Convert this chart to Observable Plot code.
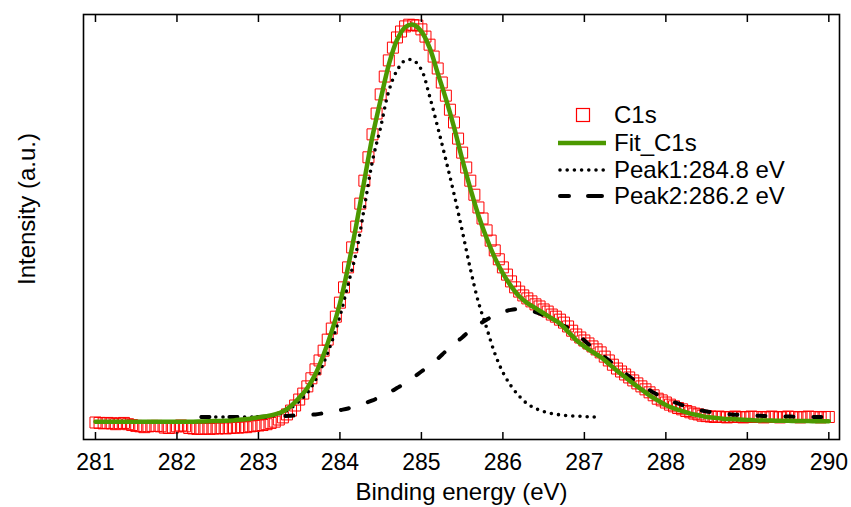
<!DOCTYPE html>
<html>
<head>
<meta charset="utf-8">
<script src="https://cdn.jsdelivr.net/npm/d3@7"></script>
<script src="https://cdn.jsdelivr.net/npm/@observablehq/plot@0.6"></script>
<style>
  body { margin: 0; background: #fff; font-family: "Liberation Sans", Arial, sans-serif; }
  #wrap { position: relative; width: 851px; height: 507px; }
  .row { position: absolute; left: 556px; height: 28px; display: flex; align-items: center; font-size: 24px; color: #000; white-space: nowrap; }
  .row svg { width: 52px; height: 28px; margin-right: 6px; flex: none; }
</style>
</head>
<body>
<div id="wrap"></div>
<script>
// ---- Data ----
// Measured C1s spectrum, sampled every 0.05 eV from 281.00 eV
const c1sStart = 281.0;
const c1sStep = 0.05;
const c1s = [
  4.0,3.9,3.8,3.9,3.8,3.6,3.8,3.9,3.6,3.4, 3.2,3.1,2.9,3.1,3.2,3.2,3.1,2.8,2.7,2.8,
  3.1,3.3,3.1,2.7,2.6,2.5,2.5,2.6,2.5,2.6, 2.6,2.7,2.6,2.7,2.8,2.8,2.9,2.9,3.1,3.2,
  3.3,3.4,3.6,3.9,4.2,4.7,5.2,5.9,6.8,8.0, 9.4,10.8,12.5,14.4,16.5,18.6,20.9,23.5,26.1,28.9,
  32.2,35.8,40.5,45.2,50.1,55.5,60.9,66.4,71.8,76.7, 81.2,85.4,89.2,92.2,94.6,96.0,97.2,97.6,97.5,97.4,
  96.5,94.8,92.9,90.1,87.3,84.0,80.9,77.6,74.6,70.8, 67.5,64.0,60.9,57.6,54.6,52.0,49.2,46.8,44.5,42.4,
  40.5,38.8,37.2,35.8,34.8,33.9,33.2,32.5,31.8,31.3, 30.6,30.1,29.4,28.9,28.2,27.5,26.6,25.6,24.7,24.0,
  23.3,22.6,21.9,21.2,20.5,19.5,18.6,17.6,16.7,16.0, 15.3,14.6,13.9,13.2,12.5,11.8,11.1,10.4,9.6,9.2,
  8.7,8.2,7.8,7.4,7.1,6.7,6.4,6.1,5.9,5.6, 5.5,5.4,5.3,5.4,5.3,5.2,5.3,5.4,5.3,5.2,
  5.3,5.4,5.3,5.3,5.2,5.3,5.4,5.3,5.2,5.3, 5.4,5.3,5.3,5.2,5.3,5.4,5.3,5.3,5.2,5.3,
  5.3
];

// Fit envelope, every 0.1 eV from 281.0 eV
const fitStart = 281.0;
const fitStep = 0.1;
const fitC1s = [
  4.2,4.2,4.2,4.2,4.2,4.2,4.2,4.2,4.2,4.2,
  4.2,4.2,4.2,4.25,4.3,4.35,4.4,4.5,4.7,4.9,
  5.2,5.5,5.9,6.6,7.9,9.8,12.1,15.4,20.0,25.5,
  32.0,40.6,50.4,61.0,71.4,80.0,88.2,94.0,97.0,97.6,
  96.0,92.2,86.2,80.2,73.5,66.0,59.1,52.7,47.4,42.8,
  39.1,36.1,33.7,32.1,30.9,29.7,28.5,27.3,25.4,23.4,
  21.9,20.6,19.4,17.8,16.2,14.7,13.2,11.8,10.4,9.2,
  8.1,7.3,6.7,6.1,5.7,5.3,5.1,4.9,4.8,4.7,
  4.6,4.5,4.5,4.45,4.4,4.4,4.35,4.35,4.3,4.3,
  4.3
];

// Component 1 (284.8 eV), every 0.1 eV from 282.3 eV
const peak1Start = 282.3;
const peak1 = [
  5.3,5.3,5.3,5.3,5.3,5.3,5.3,
  5.3,5.4,5.7,6.3,7.4,9.0,11.0,14.0,18.0,23.0,
  29.0,36.5,44.0,54.6,65.6,73.5,82.0,86.8,89.2,89.2,
  87.0,80.8,73.5,65.8,57.8,49.2,40.2,32.3,26.3,20.3,
  15.8,12.6,10.2,8.4,7.3,6.6,6.1,5.8,5.6,5.5,
  5.4,5.3,5.3
];

// Component 2 (286.2 eV), every 0.1 eV from 282.3 eV
const peak2Start = 282.3;
const peak2 = [
  5.3,5.3,5.3,5.3,5.3,5.3,5.3,
  5.3,5.35,5.4,5.5,5.6,5.7,5.8,5.9,6.2,6.5,
  6.9,7.3,7.8,8.5,9.2,10.1,11.0,12.1,13.2,14.6,
  16.0,17.4,19.0,20.8,22.5,24.0,25.7,27.0,28.2,29.2,
  30.0,30.5,30.7,30.5,30.0,29.2,28.2,27.1,26.3,25.0,
  23.3,21.6,20.1,18.6,17.1,15.6,14.1,12.8,11.6,10.5,
  9.6,8.8,8.1,7.5,7.0,6.6,6.3,6.1,5.9,5.8,
  5.7,5.6,5.55,5.5,5.45,5.4,5.35,5.3,5.3,5.3,
  5.3
];

const xTicks = [281, 282, 283, 284, 285, 286, 287, 288, 289, 290];
const seriesNames = ["C1s", "Fit_C1s", "Peak1:284.8 eV", "Peak2:286.2 eV"];
const xTitle = "Binding energy (eV)";
const yTitle = "Intensity (a.u.)";

// ---- Build tables ----
const rows = (start, step, vals) => vals.map((v, i) => ({e: +(start + i * step).toFixed(2), v}));
const c1sRows = rows(c1sStart, c1sStep, c1s);
const fitRows = rows(fitStart, fitStep, fitC1s);
const p1Rows = rows(peak1Start, fitStep, peak1);
const p2Rows = rows(peak2Start, fitStep, peak2);

const RED = "#ff0000", GREEN = "#4c9900";
const FONT = '"Liberation Sans", Arial, Helvetica, sans-serif';

const chart = Plot.plot({
  width: 851, height: 507,
  marginLeft: 83, marginRight: 12, marginTop: 14, marginBottom: 68,
  style: {fontFamily: FONT, fontSize: "23px", color: "#000", background: "#fff"},
  x: {domain: [280.853, 290.131], axis: null},
  y: {domain: [0, 100], axis: null},
  marks: [
    Plot.dot(c1sRows, {x: "e", y: "v", symbol: "square", r: 6.2, stroke: RED, strokeWidth: 1, fill: "none"}),
    Plot.line(p1Rows, {x: "e", y: "v", stroke: "#000", strokeWidth: 3.6, strokeDasharray: "0,7.2", strokeLinecap: "round", curve: "catmull-rom"}),
    Plot.line(p2Rows, {x: "e", y: "v", stroke: "#000", strokeWidth: 4, strokeDasharray: "8,20", strokeLinecap: "round", curve: "catmull-rom"}),
    Plot.line(fitRows, {x: "e", y: "v", stroke: GREEN, strokeWidth: 4.5, curve: "catmull-rom"}),
    Plot.frame({stroke: "#000", strokeWidth: 1.6}),
    Plot.axisX(xTicks, {anchor: "bottom", tickSize: -7, strokeWidth: 1.5, tickFormat: () => "", label: null}),
    Plot.axisX(xTicks, {anchor: "top", tickSize: -7, strokeWidth: 1.5, tickFormat: () => "", label: null}),
    Plot.axisX(xTicks, {anchor: "bottom", tickSize: 0, tickPadding: 14, fontSize: 23, label: null}),
    Plot.text([xTitle], {frameAnchor: "bottom", dy: 53, lineAnchor: "middle", textAnchor: "middle", text: d => d, fontSize: 24}),
    Plot.text([yTitle], {frameAnchor: "left", dx: -56, dy: -18, rotate: -90, lineAnchor: "middle", textAnchor: "middle", text: d => d, fontSize: 24})
  ]
});

const wrap = document.getElementById("wrap");
wrap.appendChild(chart);

// ---- Legend (inside the plot area, top right) ----
const rowCenters = [115, 143, 170, 196];
const swatches = [
  `<rect x="20.5" y="7.5" width="13" height="13" fill="none" stroke="${RED}" stroke-width="1.2"/>`,
  `<line x1="2" y1="14" x2="50" y2="14" stroke="${GREEN}" stroke-width="4.5"/>`,
  `<line x1="4" y1="14" x2="50" y2="14" stroke="#000" stroke-width="3.6" stroke-dasharray="0,7.2" stroke-linecap="round"/>`,
  `<line x1="4" y1="14" x2="48" y2="14" stroke="#000" stroke-width="4" stroke-dasharray="9,19,14" stroke-linecap="round"/>`
];
seriesNames.forEach((name, i) => {
  const row = document.createElement("div");
  row.className = "row";
  row.style.top = (rowCenters[i] - 14) + "px";
  row.innerHTML = `<svg viewBox="0 0 52 28">${swatches[i]}</svg><span>${name}</span>`;
  wrap.appendChild(row);
});
</script>
</body>
</html>
